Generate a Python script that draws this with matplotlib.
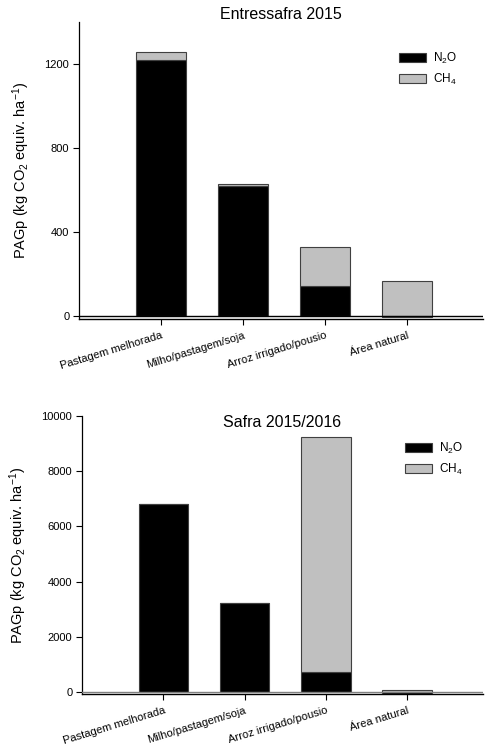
import matplotlib
matplotlib.use("Agg")
import matplotlib.pyplot as plt
import numpy as np
from matplotlib.patches import Patch

plt.rcParams['font.family'] = ['Liberation Sans', 'DejaVu Sans']
plt.rcParams['mathtext.default'] = 'regular'

categories = ["Pastagem melhorada", "Milho/pastagem/soja", "Arroz irrigado/pousio", "Área natural"]

# Entressafra 2015
n2o_2015 = [1218, 620, 143, -4]
ch4_2015 = [38, 7, 187, 167]

# Safra 2015/2016
n2o_1516 = [6805, 3238, 745, -60]
ch4_1516 = [5, 5, 8480, 85]

BLACK = "#000000"
GRAY = "#c0c0c0"
EDGE = "#404040"


def stack_bottoms(n2o):
    # negative N2O is drawn below zero, CH4 starts from the top of positive N2O
    return [v if v > 0 else 0 for v in n2o]


def draw_panel(ax, n2o, ch4, ylim, yticks, zero_color):
    x = np.arange(len(categories))
    ax.bar(x, n2o, width=0.61, color=BLACK, edgecolor=EDGE, linewidth=0.8, zorder=2)
    ax.bar(x, ch4, width=0.61, bottom=stack_bottoms(n2o), color=GRAY,
           edgecolor=EDGE, linewidth=0.8, zorder=2)
    ax.axhline(0, color=zero_color, linewidth=1.0, zorder=3)
    ax.set_xlim(-1, 3.93)
    ax.set_ylim(*ylim)
    ax.set_yticks(yticks)
    ax.set_xticks(x)
    ax.set_xticklabels(categories, rotation=17, ha="right", rotation_mode="anchor")
    ax.tick_params(axis="both", direction="out", length=4, width=0.8, labelsize=8, pad=3)
    ax.tick_params(axis="x", pad=4)
    for s in ("top", "right"):
        ax.spines[s].set_visible(False)
    ax.spines["left"].set_linewidth(0.9)
    ax.spines["bottom"].set_linewidth(1.0)
    ax.set_ylabel("PAGp (kg CO$_2$ equiv. ha$^{-1}$)", fontsize=10.5, labelpad=9)
    handles = [Patch(facecolor=BLACK, edgecolor=EDGE, linewidth=0.8),
               Patch(facecolor=GRAY, edgecolor=EDGE, linewidth=0.8)]
    return handles


fig = plt.figure(figsize=(4.86, 7.47), dpi=100)

ax1 = fig.add_axes([0.1626, 0.5730, 0.831, 0.3975])
h = draw_panel(ax1, n2o_2015, ch4_2015, (-14, 1400), [0, 400, 800, 1200], "black")
ax1.set_title("Entressafra 2015", fontsize=11.5, pad=2)
ax1.legend(h, ["N$_2$O", "CH$_4$"], loc="upper left", bbox_to_anchor=(399 / 486, 1 - 51 / 747),
           bbox_transform=fig.transFigure, frameon=False, fontsize=8.5, handlelength=2.3,
           handleheight=0.8, handletextpad=0.55, labelspacing=0.5, borderpad=0, borderaxespad=0)

ax2 = fig.add_axes([0.1687, 0.0707, 0.825, 0.3728])
h = draw_panel(ax2, n2o_1516, ch4_1516, (-72, 10000), range(0, 10001, 2000), "#808080")
ax2.text(0.5, 0.975, "Safra 2015/2016", transform=ax2.transAxes, ha="center", va="center", fontsize=11.5)
ax2.legend(h, ["N$_2$O", "CH$_4$"], loc="upper left", bbox_to_anchor=(405 / 486, 1 - 441 / 747),
           bbox_transform=fig.transFigure, frameon=False, fontsize=8.5, handlelength=2.3,
           handleheight=0.8, handletextpad=0.55, labelspacing=0.5, borderpad=0, borderaxespad=0)

fig.savefig("out.png", dpi=100)
